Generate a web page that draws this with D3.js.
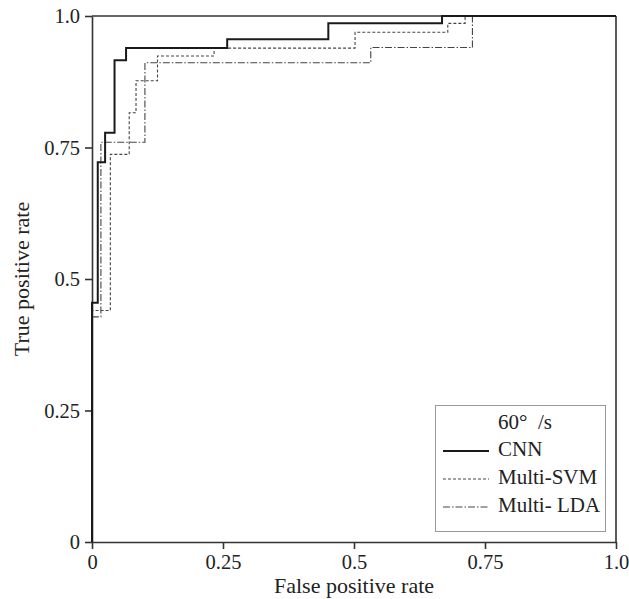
<!DOCTYPE html>
<html>
<head>
<meta charset="utf-8">
<script src="https://cdn.jsdelivr.net/npm/d3@7/dist/d3.min.js"></script>
<style>
  html, body { margin: 0; padding: 0; background: #fff; }
  svg { display: block; }
  svg text { font-family: "Liberation Serif", "Tinos", "DejaVu Serif", serif !important; fill: #222; }
</style>
</head>
<body>
<svg id="chart" width="629" height="599"></svg>
<script>
// ROC curves: (false positive rate, true positive rate) corner points, drawn as steps
const cnnFpr = [0, 0, 0.011, 0.025, 0.043, 0.065, 0.258, 0.451, 0.668, 1];
const cnnTpr = [0, 0.455, 0.722, 0.778, 0.916, 0.939, 0.956, 0.986, 1, 1];

const svmFpr = [0, 0, 0.035, 0.071, 0.084, 0.125, 0.233, 0.502, 0.679, 0.712, 1];
const svmTpr = [0, 0.44, 0.737, 0.816, 0.877, 0.924, 0.939, 0.969, 0.986, 1, 1];

const ldaFpr = [0, 0, 0.017, 0.101, 0.532, 0.726, 1];
const ldaTpr = [0, 0.428, 0.76, 0.911, 0.94, 1, 1];

const seriesNames = ["CNN", "Multi-SVM", "Multi- LDA"];
const legendTitle = "60°  /s";

const tickValues = [0, 0.25, 0.5, 0.75, 1];
const tickLabels = ["0", "0.25", "0.5", "0.75", "1.0"];

const xTitle = "False positive rate";
const yTitle = "True positive rate";

// plot area edges
const plotLeft = 92, plotRight = 616, plotTop = 16, plotBottom = 542;
const svg = d3.select("#chart");

const x = d3.scaleLinear().domain([0, 1]).range([plotLeft, plotRight]);
const y = d3.scaleLinear().domain([0, 1]).range([plotBottom, plotTop]);

const axisColor = "#333";
const fmt = (d) => tickLabels[tickValues.indexOf(d)];

// axes
const gx = svg.append("g")
  .attr("transform", `translate(0,${plotBottom})`)
  .call(d3.axisBottom(x).tickValues(tickValues).tickFormat(fmt).tickSize(7).tickSizeOuter(0).tickPadding(5));
const gy = svg.append("g")
  .attr("transform", `translate(${plotLeft},0)`)
  .call(d3.axisLeft(y).tickValues(tickValues).tickFormat(fmt).tickSize(7).tickSizeOuter(0).tickPadding(5));

[gx, gy].forEach(g => {
  g.attr("font-family", null).attr("font-size", null);
  g.selectAll("path.domain").attr("stroke", axisColor).attr("stroke-width", 1.6);
  g.selectAll(".tick line").attr("stroke", axisColor).attr("stroke-width", 1.6);
  g.selectAll(".tick text").attr("font-size", 20.5).attr("fill", "#222");
});

// top and right frame lines
svg.append("line").attr("x1", x(0)).attr("x2", x(1)).attr("y1", y(1)).attr("y2", y(1))
  .attr("stroke", axisColor).attr("stroke-width", 1.6);
svg.append("line").attr("x1", x(1)).attr("x2", x(1)).attr("y1", y(1)).attr("y2", y(0))
  .attr("stroke", axisColor).attr("stroke-width", 1.6);

// axis titles
svg.append("text")
  .attr("x", (plotLeft + plotRight) / 2).attr("y", 593)
  .attr("text-anchor", "middle").attr("font-size", 22)
  .text(xTitle);
svg.append("text")
  .attr("transform", `translate(29,${(plotTop + plotBottom) / 2}) rotate(-90)`)
  .attr("text-anchor", "middle").attr("font-size", 22)
  .text(yTitle);

// series
const styles = [
  { stroke: "#1a1a1a", width: 2, dash: null },
  { stroke: "#444", width: 1.1, dash: "3,2" },
  { stroke: "#444", width: 1.1, dash: "7,2,1.5,2" }
];
const series = [
  cnnFpr.map((f, i) => [f, cnnTpr[i]]),
  svmFpr.map((f, i) => [f, svmTpr[i]]),
  ldaFpr.map((f, i) => [f, ldaTpr[i]])
];

const line = d3.line().x(d => x(d[0])).y(d => y(d[1])).curve(d3.curveStepAfter);

// draw dashed ones first so the solid curve sits on top
[2, 1, 0].forEach(i => {
  svg.append("path")
    .datum(series[i])
    .attr("fill", "none")
    .attr("stroke", styles[i].stroke)
    .attr("stroke-width", styles[i].width)
    .attr("stroke-dasharray", styles[i].dash)
    .attr("d", line);
});

// legend
const lg = svg.append("g");
lg.append("rect")
  .attr("x", 435.5).attr("y", 405.5).attr("width", 170).attr("height", 126)
  .attr("fill", "#fff").attr("stroke", "#999").attr("stroke-width", 1);
lg.append("text")
  .attr("x", 498).attr("y", 429).attr("font-size", 21)
  .attr("xml:space", "preserve").style("white-space", "pre")
  .text(legendTitle);
seriesNames.forEach((name, i) => {
  const by = 456 + i * 28;
  lg.append("line")
    .attr("x1", 443).attr("x2", 489).attr("y1", by - 5).attr("y2", by - 5)
    .attr("stroke", styles[i].stroke)
    .attr("stroke-width", styles[i].width)
    .attr("stroke-dasharray", styles[i].dash);
  lg.append("text")
    .attr("x", 498).attr("y", by).attr("font-size", 21)
    .attr("xml:space", "preserve").style("white-space", "pre")
    .text(name);
});
</script>
</body>
</html>
